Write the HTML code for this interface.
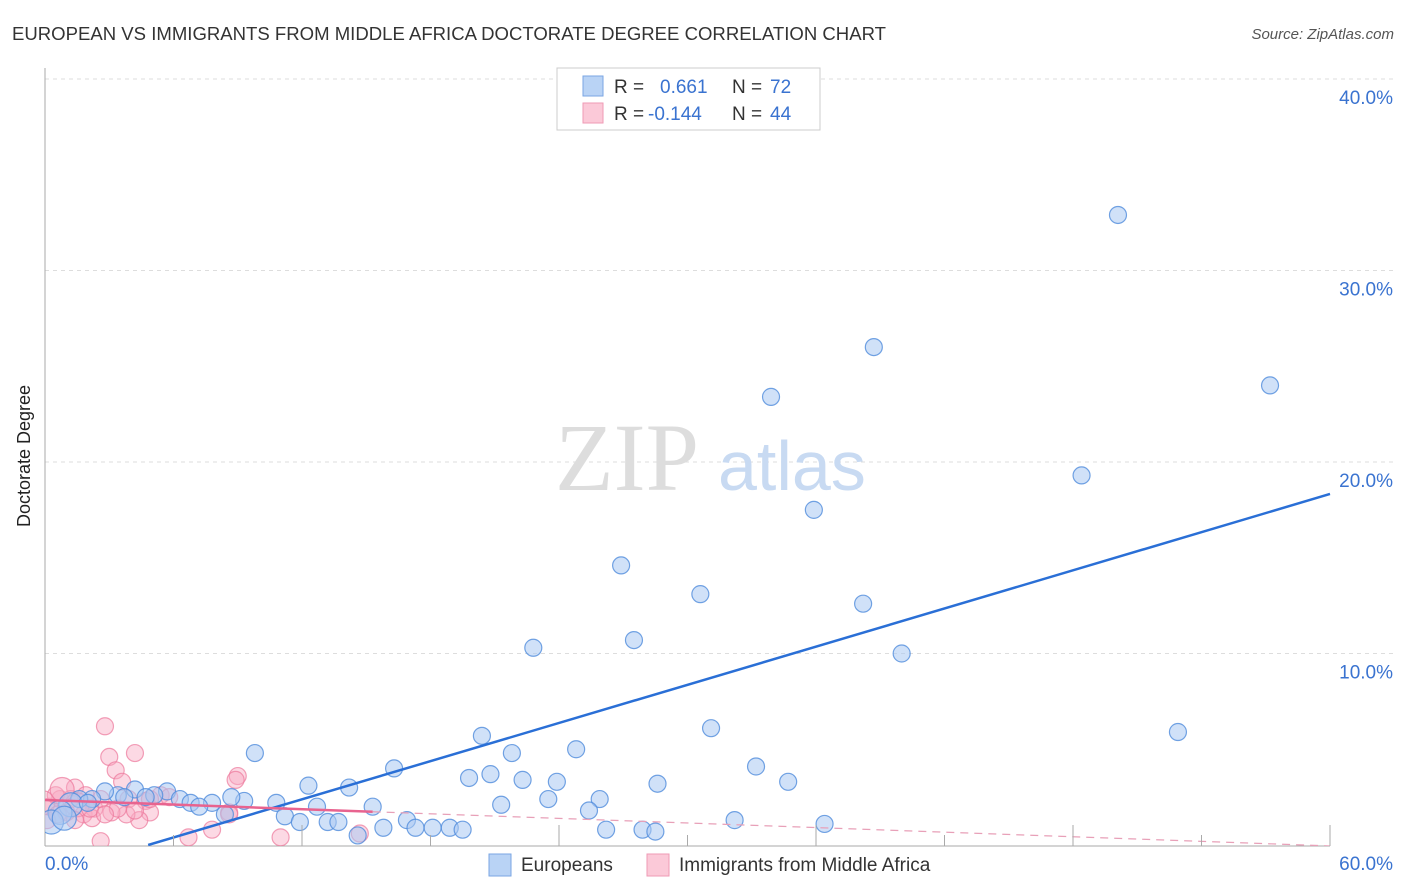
<!DOCTYPE html>
<html><head><meta charset="utf-8"><style>
body{margin:0;background:#fff;font-family:"Liberation Sans",sans-serif}
svg{display:block}
</style></head><body>
<svg width="1406" height="892">
<defs><clipPath id="plot"><rect x="45" y="60" width="1300" height="786"/></clipPath></defs>
<text x="12" y="40" font-size="18" fill="#333" textLength="874" lengthAdjust="spacingAndGlyphs">EUROPEAN VS IMMIGRANTS FROM MIDDLE AFRICA DOCTORATE DEGREE CORRELATION CHART</text>
<text x="1394" y="39" font-size="15" fill="#555" font-style="italic" text-anchor="end">Source: ZipAtlas.com</text>
<g id="grid"></g>
<line x1="45" y1="68" x2="45" y2="846" stroke="#aaa"/>
<line x1="45" y1="846" x2="1330" y2="846" stroke="#aaa"/>
<text x="30" y="456" font-size="18" fill="#222" transform="rotate(-90 30 456)" text-anchor="middle">Doctorate Degree</text>
<text x="555" y="490" font-size="96" fill="#ddd" font-family="Liberation Serif,serif">ZIP</text>
<text x="718" y="490" font-size="70" fill="#c8daf2">atlas</text>
<g id="marks" clip-path="url(#plot)"></g>
<g id="ticks"></g>
<rect x="557" y="68" width="263" height="62" fill="#fff" stroke="#ccc"/>
<rect x="583" y="76" width="20" height="20" fill="#b9d3f5" stroke="#7aa6e3"/>
<rect x="583" y="103" width="20" height="20" fill="#fbc9d8" stroke="#ef9ab5"/>
<text x="614" y="93" font-size="19" fill="#333">R = <tspan fill="#3a73d0" x="660">0.661</tspan><tspan fill="#333" x="732">N =</tspan><tspan fill="#3a73d0" x="770">72</tspan></text>
<text x="614" y="120" font-size="19" fill="#333">R = <tspan fill="#3a73d0" x="648">-0.144</tspan><tspan fill="#333" x="732">N =</tspan><tspan fill="#3a73d0" x="770">44</tspan></text>
<rect x="489" y="854" width="22" height="22" fill="#b9d3f5" stroke="#7aa6e3"/>
<text x="521" y="871" font-size="19" fill="#333">Europeans</text>
<rect x="647" y="854" width="22" height="22" fill="#fbc9d8" stroke="#ef9ab5"/>
<text x="679" y="871" font-size="19" fill="#333">Immigrants from Middle Africa</text>
</svg>
<script>
const blueX=[50.1,38.7,33.9,57.2,48.4,35.9,26.9,30.6,38.2,27.5,22.8,40.0,31.1,52.9,20.4,9.8,21.8,24.8,33.2,16.3,19.8,20.8,22.3,23.9,28.6,34.7,12.3,14.2,25.9,23.5,21.3,15.3,12.7,9.3,10.8,8.7,25.4,32.2,36.4,11.2,11.9,13.2,13.7,16.9,15.8,17.3,18.1,18.9,19.5,26.2,27.9,28.5,14.6,5.7,4.2,5.1,6.3,6.8,7.8,7.2,8.4,3.4,2.8,2.2,1.6,1.2,0.7,0.3,0.9,2.0,3.7,4.7];
const blueY=[32.9,26.0,23.4,24.0,19.3,17.5,14.6,13.1,12.6,10.7,10.3,10.0,6.1,5.9,5.7,4.8,4.8,5.0,4.1,4.0,3.5,3.7,3.4,3.3,3.2,3.3,3.1,3.0,2.4,2.4,2.1,2.0,2.0,2.3,2.2,2.5,1.8,1.3,1.1,1.5,1.2,1.2,1.2,1.3,0.9,0.9,0.9,0.9,0.8,0.8,0.8,0.7,0.5,2.8,2.9,2.6,2.4,2.2,2.2,2.0,1.6,2.6,2.8,2.4,2.4,2.1,1.7,1.2,1.4,2.2,2.5,2.5];
const pinkX=[2.8,3.0,4.2,3.3,3.6,9.0,8.9,1.4,0.7,0.2,0.1,1.0,1.8,2.3,2.6,3.9,4.7,4.9,4.4,3.8,3.1,2.2,0.5,1.2,1.9,7.8,6.7,2.6,14.7,11.0,8.6,5.4,-0.1,1.5,0.8,3.4,4.2,4.9,0.6,2.1,2.8,5.8,8.6,1.4];
const pinkY=[6.2,4.6,4.8,3.9,3.3,3.6,3.4,3.0,2.4,2.0,1.3,1.7,1.6,1.9,2.4,2.4,2.3,1.7,1.3,1.6,1.7,1.4,2.6,2.4,2.6,0.8,0.4,0.2,0.6,0.4,1.7,2.6,2.2,2.1,2.9,1.9,1.8,2.4,1.6,1.9,1.6,2.5,1.6,1.3];
const blueFit=[-1.6,18.33], pinkFit=[2.35,-0.05];
const yTicks=[10,20,30,40], xTickLabels=["0.0%","60.0%"];
const X=v=>45+v/60*1285, Y=v=>845-v*19.15;
const NS="http://www.w3.org/2000/svg";
const mk=(t,a,p)=>{const e=document.createElementNS(NS,t);for(const k in a)e.setAttribute(k,a[k]);p.appendChild(e);return e;};
const grid=document.getElementById('grid'),marks=document.getElementById('marks'),ticks=document.getElementById('ticks');
yTicks.forEach(t=>{
 const l=mk('line',{x1:45,x2:1395,y1:Y(t),y2:Y(t),stroke:'#ddd','stroke-dasharray':'4 4'},grid);
 
 
 const tx=mk('text',{x:1393,y:Y(t)+25,'font-size':19,fill:'#3a73d0','text-anchor':'end'},ticks);
 tx.textContent=t.toFixed(1)+'%';
 
 
});
for(let i=1;i<=10;i++){const px=X(i*6);const l=mk('line',{x1:px,x2:px,y1:i%2?835:825,y2:846,stroke:'#aaa'},ticks);
 
 }
[[45,'start',0],[1393,'end',1]].forEach(([x,a,i])=>{const t=mk('text',{x:x,y:870,'font-size':19,fill:'#3a73d0','text-anchor':a},ticks);t.textContent=xTickLabels[i];
 
 });
pinkX.forEach((v,i)=>{const c=mk('circle',{cx:X(v),cy:Y(pinkY[i]),r:i>=32&&i<=34?12:8.5,fill:'rgba(248,170,195,0.45)',stroke:'rgba(236,120,155,0.7)','stroke-width':1.2},marks);
 
 });
blueX.forEach((v,i)=>{const c=mk('circle',{cx:X(v),cy:Y(blueY[i]),r:i>=65&&i<=68?12:8.5,fill:'rgba(170,200,242,0.55)',stroke:'rgba(80,140,220,0.8)','stroke-width':1.2},marks);
 
 });
const x0=-blueFit[0]/(blueFit[1]-blueFit[0])*60;
const bl=mk('line',{x1:X(x0),y1:Y(0),x2:X(60),y2:Y(blueFit[1]),stroke:'#2a6fd6','stroke-width':2.5},marks);


const pv=x=>pinkFit[0]+(pinkFit[1]-pinkFit[0])*x/60;
const ps=mk('line',{x1:X(0),y1:Y(pv(0)),x2:X(15.3),y2:Y(pv(15.3)),stroke:'#e8638f','stroke-width':2.5},marks);


const pd=mk('line',{x1:X(15.3),y1:Y(pv(15.3)),x2:X(60),y2:Y(pv(60)),stroke:'#e8a0b8','stroke-width':1.2,'stroke-dasharray':'8 6'},marks);


</script>
</body></html>
